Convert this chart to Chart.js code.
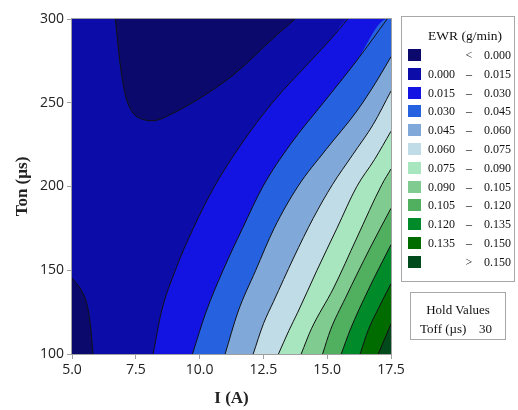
<!DOCTYPE html>
<html>
<head>
<meta charset="utf-8">
<script src="https://cdn.jsdelivr.net/npm/chart.js@4"></script>
<style>
  body { margin: 0; background: #fff; }
  #wrap { position: relative; width: 518px; height: 410px; }
  #legend { position: absolute; left: 401px; top: 16px; width: 114px; height: 266px; border: 1px solid #a8a8a8; box-sizing: border-box; font-family: "Liberation Serif", serif; font-size: 12px; color: #111; }
  #legend .title { position: absolute; left: 0; width: 100%; top: 11px; text-align: center; padding-left: 14px; box-sizing: border-box; font-size: 13.5px; }
  #legend .sw { position: absolute; left: 6px; width: 13px; height: 12px; }
  #legend .lo, #legend .hi, #legend .mid { position: absolute; line-height: 14px; }
  #legend .lo { right: 59px; text-align: right; }
  #legend .mid { left: 63px; width: 8px; text-align: center; }
  #legend .hi { right: 3px; text-align: right; }
  #hold { position: absolute; left: 410px; top: 292px; width: 96px; height: 48px; border: 1px solid #a8a8a8; box-sizing: border-box; font-family: "Liberation Serif", serif; font-size: 13px; color: #111; }
</style>
</head>
<body>
<div id="wrap">
  <canvas id="chart" width="518" height="410"></canvas>
  <div id="legend"></div>
  <div id="hold">
    <div style="position:absolute;left:0;width:100%;top:9px;text-align:center">Hold Values</div>
    <div style="position:absolute;left:9px;top:28px">Toff (µs)</div>
    <div id="holdVal" style="position:absolute;right:13px;top:28px"></div>
  </div>
</div>
<script>
// contour levels of EWR (g/min) and band colours (lowest band first)
const levels = [0.000, 0.015, 0.030, 0.045, 0.060, 0.075, 0.090, 0.105, 0.120, 0.135, 0.150];
const bandColors = ['#0b0a6c', '#0c0ca8', '#1414e2', '#2662e0', '#80a8d8', '#c0dce6',
                    '#a8e6c0', '#80cc90', '#50b060', '#008a2a', '#006c00', '#004a1c'];
const xTicks = [5.0, 7.5, 10.0, 12.5, 15.0, 17.5];
const yTicks = [100, 150, 200, 250, 300];
const holdToff = 30;

// contour lines: [I (A), Ton (µs)]
const line000Top = [[6.70,300],[6.89,272.7],[7.09,254.8],[7.35,244.8],[7.87,239.7],[8.1,239.3],[8.33,239.6],
                    [8.85,242.9],[10.02,252.8],[11.33,266.7],[12.96,289.6],[13.74,300]];
const line000Low = [[5.0,145.4],[5.39,137.4],[5.59,129.4],[5.72,117.5],[5.82,100]];
const line015 = [[8.18,100],[8.5,125],[9.05,150],[9.75,175],[10.58,200],[11.62,225],[12.85,250],
                 [14.35,275],[15.2,289],[15.8,300]];
const line030 = [[9.72,100],[10.25,125],[10.92,150],[11.68,175],[12.48,200],[13.55,225],[14.85,250],
                 [16.15,275],[17.35,300]];
const line045 = [[11.0,100],[11.5,125],[12.2,150],[12.92,175],[13.85,200],[14.95,222],[16.16,245],
                 [16.94,263],[17.5,277.5]];
const line060 = [[12.1,100],[12.5,118],[12.9,131.4],[13.68,157.3],[14.45,181],[15.2,201],[16.0,219],
                 [16.8,237],[17.5,257]];
const line075 = [[13.09,100],[13.5,114],[13.85,125],[14.6,150],[15.38,175],[16.16,200],[16.85,216],[17.5,233]];
const line090 = [[13.98,100],[14.38,115],[15.25,139.4],[16.16,169.3],[17.14,201.1],[17.5,210.5]];
const line105 = [[14.82,100],[15.13,114.4],[15.7,133],[16.68,163.3],[17.5,187]];
const line120 = [[15.55,100],[15.9,114.4],[16.6,138],[17.5,165.3]];
const line135 = [[16.29,100],[16.61,114.4],[17.0,127],[17.5,142]];
const line150 = [[17.0,100],[17.5,118]];

const upperLines = [line015, line030, line045, line060, line075, line090, line105, line120, line135, line150];
const xMax = xTicks[xTicks.length - 1];
const yMax = yTicks[yTicks.length - 1];

const toXY = pts => pts.map(p => ({ x: p[0], y: p[1] }));

function bandFill(pts, color, fill, order) {
  return {
    data: toXY(pts), showLine: true, fill: fill, backgroundColor: color,
    borderWidth: 0, pointRadius: 0, cubicInterpolationMode: 'monotone', order: order
  };
}
function contourLine(pts) {
  return {
    data: toXY(pts), showLine: true, fill: false, borderColor: '#111',
    borderWidth: 1, pointRadius: 0, cubicInterpolationMode: 'monotone', order: 0
  };
}

const datasets = [
  bandFill(line000Top, bandColors[0], 'end', 100),
  bandFill(line000Low, bandColors[0], 'start', 100),
  contourLine(line000Top),
  contourLine(line000Low)
];
upperLines.forEach((pts, i) => {
  const last = pts[pts.length - 1];
  // bands whose edge leaves through the top run along it to the top-right corner
  const area = last[1] === yMax && last[0] < xMax ? pts.concat([[xMax, yMax]]) : pts;
  datasets.push(bandFill(area, bandColors[i + 2], 'start', 50 - i));
  datasets.push(contourLine(pts));
});

const plotFrame = {
  id: 'plotFrame',
  beforeDatasetsDraw(chart) {
    const { ctx, chartArea: a } = chart;
    ctx.save();
    ctx.fillStyle = bandColors[1];
    ctx.fillRect(a.left, a.top, a.width, a.height);
    ctx.restore();
  },
  afterDatasetsDraw(chart) {
    const { ctx, chartArea: a } = chart;
    ctx.save();
    ctx.strokeStyle = '#a0a0a0';
    ctx.lineWidth = 1;
    ctx.strokeRect(a.left - 0.5, a.top - 0.5, a.width + 1, a.height + 1);
    ctx.restore();
  }
};

new Chart(document.getElementById('chart'), {
  type: 'scatter',
  data: { datasets },
  options: {
    responsive: false,
    animation: false,
    layout: { padding: { top: 19, right: 127, left: 0, bottom: 0 } },
    plugins: { legend: { display: false }, tooltip: { enabled: false } },
    scales: {
      x: {
        type: 'linear', min: 5, max: 17.5,
        afterBuildTicks: s => { s.ticks = xTicks.map(v => ({ value: v })); },
        afterFit: s => { s.height = 56; },
        ticks: { color: '#222', font: { family: 'Open Sans', size: 14 }, padding: 3, maxRotation: 0,
                 callback: v => Number(v).toFixed(1) },
        grid: { drawOnChartArea: false, drawTicks: true, tickLength: 5, color: '#a0a0a0' },
        border: { display: false },
        title: { display: true, text: 'I (A)', color: '#222',
                 font: { family: 'Liberation Serif', size: 17, weight: 'bold' }, padding: { top: 0, bottom: 1 } }
      },
      y: {
        type: 'linear', min: 100, max: 300,
        afterBuildTicks: s => { s.ticks = yTicks.map(v => ({ value: v })); },
        afterFit: s => { s.width = 72; },
        ticks: { color: '#222', font: { family: 'Open Sans', size: 14 }, padding: 3 },
        grid: { drawOnChartArea: false, drawTicks: true, tickLength: 5, color: '#a0a0a0' },
        border: { display: false },
        title: { display: true, text: 'Ton (µs)', color: '#222',
                 font: { family: 'Liberation Serif', size: 17, weight: 'bold' }, padding: { top: 12, bottom: 0 } }
      }
    }
  },
  plugins: [plotFrame]
});

document.getElementById('holdVal').textContent = holdToff;

// legend box built from the same levels and colours
const legend = document.getElementById('legend');
legend.innerHTML = '<div class="title">EWR (g/min)</div>';
const fmt = v => v.toFixed(3);
bandColors.forEach((col, i) => {
  const cy = 38 + i * 18.8;
  let lo = '', mid = '', hi = '';
  if (i === 0) { mid = '<'; hi = fmt(levels[0]); }
  else if (i === bandColors.length - 1) { mid = '>'; hi = fmt(levels[levels.length - 1]); }
  else { lo = fmt(levels[i - 1]); mid = '–'; hi = fmt(levels[i]); }
  legend.insertAdjacentHTML('beforeend',
    `<div class="sw" style="top:${cy - 6}px;background:${col}"></div>` +
    `<div class="lo" style="top:${cy - 7}px">${lo}</div>` +
    `<div class="mid" style="top:${cy - 7}px">${mid}</div>` +
    `<div class="hi" style="top:${cy - 7}px">${hi}</div>`);
});
</script>
</body>
</html>
